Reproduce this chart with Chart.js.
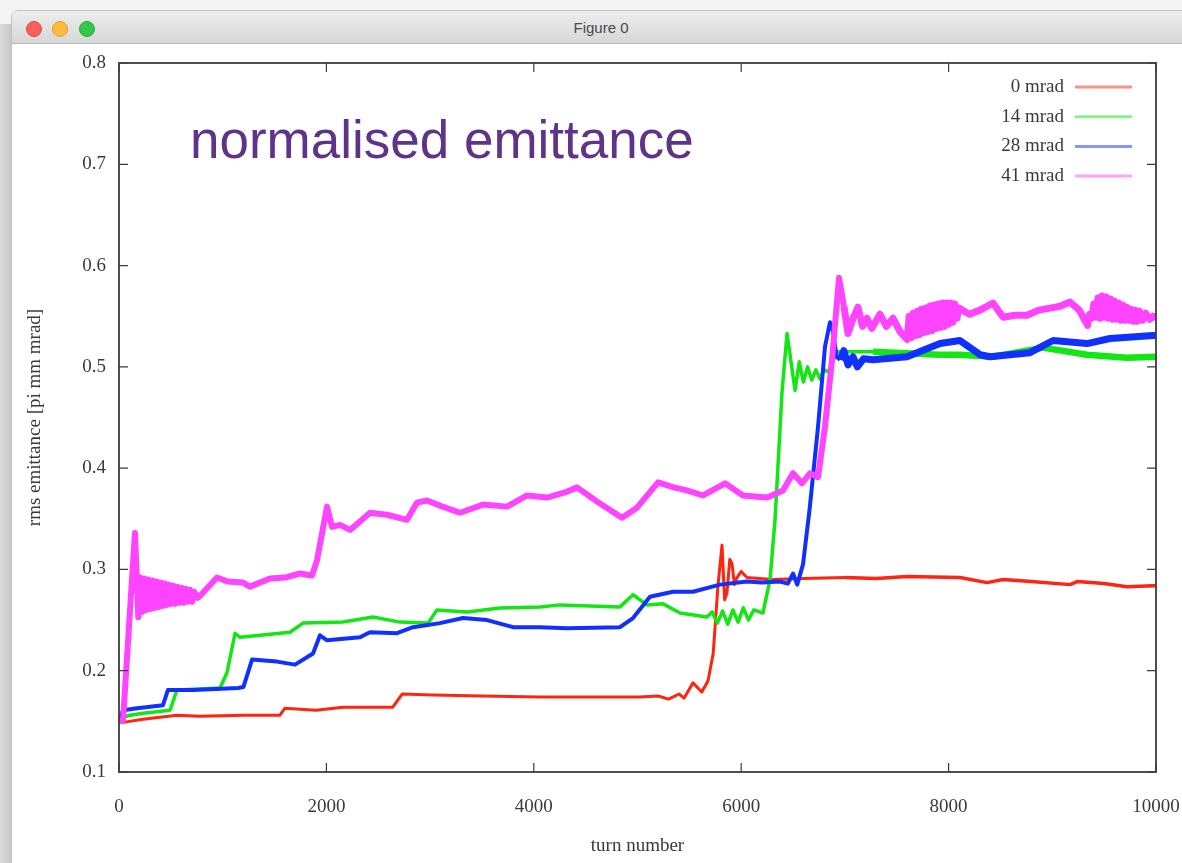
<!DOCTYPE html>
<html><head><meta charset="utf-8">
<script src="https://cdn.jsdelivr.net/npm/chart.js@4.4.0/dist/chart.umd.min.js"></script>
<style>
html,body{margin:0;padding:0;width:1182px;height:863px;overflow:hidden;background:#f4f4f4;font-family:"Liberation Sans",Arial,sans-serif;}
#strip{position:absolute;left:0;top:24px;width:12px;height:840px;background:linear-gradient(to right,#dcdcdc,#c6c6c6);}
#win{position:absolute;left:11px;top:10px;width:1200px;height:880px;background:#fff;border-top-left-radius:7px;border:1px solid #c2c2c2;overflow:hidden;}
#titlebar{position:absolute;left:0;top:0;right:0;height:32px;background:linear-gradient(#ededed,#d7d7d7);border-bottom:1px solid #b8b8b8;}
.dot{position:absolute;top:10px;width:14px;height:14px;border-radius:50%;}
#title{position:absolute;left:0;width:1178px;top:0;line-height:34px;text-align:center;font-size:15px;color:#4a4a4a;}
#wrap{position:absolute;left:0;top:44px;width:1182px;height:819px;}
#note{position:absolute;left:190px;top:113px;font-size:53px;line-height:53px;color:#5e3388;font-family:"Liberation Sans",Arial,sans-serif;white-space:nowrap;}
</style></head>
<body>
<div id="strip"></div>
<div id="win">
  <div id="titlebar">
    <div class="dot" style="left:14px;background:#fc605b;border:0.5px solid #e0443e"></div>
    <div class="dot" style="left:40px;background:#fdbc40;border:0.5px solid #dea123"></div>
    <div class="dot" style="left:67px;background:#34c84a;border:0.5px solid #27aa35"></div>
    <div id="title">Figure 0</div>
  </div>
</div>
<div id="wrap"><canvas id="c" width="1182" height="819"></canvas></div>
<div id="note">normalised emittance</div>
<script>
// ---- data (turn, rms emittance) ----
const seriesLabels = ['0 mrad', '14 mrad', '28 mrad', '41 mrad'];
const xTickValues = [0, 2000, 4000, 6000, 8000, 10000];
const yTickValues = [0.1, 0.2, 0.3, 0.4, 0.5, 0.6, 0.7, 0.8];

const red0 = [[0,0.150],[40,0.149],[230,0.152],[560,0.156],[780,0.155],[1200,0.156],[1550,0.156],[1600,0.163],[1900,0.161],[2160,0.164],[2640,0.164],[2730,0.177],[3030,0.176],[3500,0.175],[4060,0.174],[4250,0.174],[5020,0.174],[5200,0.175],[5300,0.172],[5400,0.177],[5450,0.173],[5535,0.188],[5620,0.179],[5680,0.190],[5730,0.217],[5775,0.283],[5815,0.324],[5840,0.270],[5863,0.277],[5890,0.310],[5911,0.306],[5935,0.285],[5959,0.292],[6000,0.298],[6056,0.292],[6300,0.290],[6600,0.291],[7000,0.292],[7300,0.291],[7600,0.293],[8110,0.292],[8370,0.287],[8525,0.290],[8800,0.288],[9171,0.285],[9238,0.288],[9500,0.286],[9720,0.283],[9971,0.284],[10000,0.284]];

const green14 = [[0,0.150],[10,0.153],[106,0.156],[231,0.158],[492,0.161],[559,0.181],[974,0.183],[1041,0.198],[1119,0.237],[1167,0.233],[1649,0.238],[1774,0.247],[2160,0.248],[2449,0.253],[2710,0.248],[2980,0.247],[3066,0.260],[3356,0.258],[3674,0.262],[4060,0.263],[4253,0.265],[4831,0.263],[4957,0.275],[5091,0.265],[5246,0.266],[5410,0.257],[5670,0.253],[5720,0.258],[5770,0.247],[5820,0.259],[5870,0.246],[5920,0.260],[5970,0.248],[6020,0.262],[6070,0.250],[6120,0.260],[6210,0.257],[6278,0.290],[6326,0.349],[6393,0.474],[6442,0.533],[6519,0.477],[6560,0.505],[6600,0.485],[6640,0.500],[6680,0.487],[6720,0.497],[6760,0.488],[6800,0.497],[6840,0.495],[6924,0.515],[7271,0.515],[7917,0.512],[8110,0.512],[8428,0.510],[8910,0.519],[9335,0.512],[9720,0.509],[10000,0.510]];

const blue28 = [[0,0.150],[39,0.161],[174,0.163],[424,0.166],[472,0.181],[714,0.181],[1148,0.183],[1200,0.184],[1283,0.211],[1524,0.209],[1697,0.206],[1871,0.217],[1938,0.235],[2006,0.230],[2324,0.233],[2420,0.238],[2681,0.237],[2835,0.243],[3095,0.247],[3317,0.252],[3549,0.250],[3800,0.243],[4060,0.243],[4320,0.242],[4831,0.243],[4957,0.252],[5120,0.273],[5342,0.278],[5535,0.278],[5795,0.285],[6056,0.288],[6200,0.287],[6374,0.288],[6450,0.286],[6500,0.296],[6540,0.285],[6596,0.305],[6660,0.360],[6741,0.441],[6808,0.520],[6856,0.544],[6886,0.534],[6920,0.510],[6953,0.507],[6990,0.516],[7030,0.502],[7078,0.510],[7120,0.500],[7180,0.508],[7271,0.507],[7599,0.510],[7917,0.523],[8110,0.526],[8303,0.512],[8399,0.510],[8785,0.514],[9007,0.526],[9335,0.523],[9556,0.528],[9971,0.531],[10000,0.531]];

const magenta41 = [[0,0.150],[39,0.151],[100,0.250],[154,0.336],[186,0.253],[205,0.292],[225,0.258],[245,0.291],[265,0.260],[285,0.290],[305,0.261],[325,0.289],[345,0.262],[365,0.288],[385,0.263],[405,0.287],[425,0.264],[445,0.286],[465,0.265],[485,0.285],[505,0.266],[525,0.284],[545,0.266],[565,0.283],[585,0.267],[605,0.282],[625,0.267],[645,0.281],[665,0.268],[685,0.280],[705,0.268],[725,0.278],[760,0.272],[800,0.276],[945,0.292],[1050,0.288],[1196,0.287],[1263,0.283],[1456,0.291],[1600,0.292],[1745,0.296],[1861,0.294],[1909,0.309],[2006,0.362],[2054,0.342],[2130,0.344],[2228,0.339],[2420,0.356],[2584,0.354],[2777,0.349],[2874,0.366],[2970,0.368],[3120,0.362],[3288,0.356],[3510,0.364],[3742,0.362],[3934,0.373],[4127,0.371],[4300,0.376],[4417,0.381],[4609,0.367],[4850,0.351],[4995,0.361],[5198,0.386],[5350,0.381],[5477,0.378],[5632,0.373],[5844,0.385],[6017,0.373],[6249,0.371],[6403,0.378],[6499,0.395],[6586,0.385],[6664,0.395],[6741,0.391],[6808,0.441],[6876,0.507],[6943,0.588],[6990,0.560],[7030,0.533],[7080,0.548],[7126,0.559],[7170,0.540],[7213,0.548],[7260,0.538],[7338,0.552],[7400,0.540],[7464,0.548],[7530,0.535],[7600,0.527],[7620,0.550],[7640,0.529],[7660,0.553],[7680,0.531],[7700,0.555],[7720,0.532],[7740,0.557],[7760,0.534],[7780,0.558],[7800,0.535],[7820,0.560],[7840,0.536],[7860,0.561],[7880,0.538],[7900,0.562],[7920,0.539],[7940,0.563],[7960,0.540],[7980,0.563],[8000,0.542],[8020,0.563],[8040,0.544],[8060,0.562],[8080,0.548],[8100,0.558],[8200,0.552],[8303,0.556],[8428,0.563],[8525,0.549],[8640,0.551],[8756,0.551],[8870,0.556],[8978,0.558],[9080,0.560],[9171,0.564],[9260,0.556],[9340,0.541],[9360,0.552],[9380,0.548],[9400,0.562],[9420,0.549],[9440,0.568],[9460,0.548],[9480,0.570],[9500,0.549],[9520,0.569],[9540,0.548],[9560,0.567],[9580,0.547],[9600,0.565],[9620,0.547],[9640,0.563],[9660,0.546],[9680,0.561],[9700,0.546],[9720,0.559],[9740,0.546],[9760,0.557],[9780,0.545],[9800,0.556],[9820,0.545],[9840,0.555],[9870,0.546],[9900,0.553],[9940,0.547],[9971,0.550],[10000,0.548]];

const seriesData = [red0, green14, blue28, magenta41];
const seriesColors = ['#ff2410', '#14e614', '#1030ff', '#ff44ff'];
const seriesWidths = [3, 3.5, 4, 6];
const lateWidths = [3.5, 6.5, 7, 7];

const serif = '"Liberation Serif","Times New Roman",serif';
const textGrey = '#3a3a3a';

const toPoints = arr => arr.map(p => ({x: p[0], y: p[1]}));

const framePlugin = {
  id: 'gnuframe',
  afterDraw(chart) {
    const {ctx, chartArea: {left, right, top, bottom}, scales: {x, y}} = chart;
    ctx.save();
    ctx.strokeStyle = '#3c3c3c';
    ctx.lineWidth = 1.2;
    const tl = 9;
    ctx.beginPath();
    x.ticks.forEach((t, i) => {
      const px = x.getPixelForTick(i);
      ctx.moveTo(px, bottom); ctx.lineTo(px, bottom - tl);
      ctx.moveTo(px, top); ctx.lineTo(px, top + tl);
    });
    y.ticks.forEach((t, i) => {
      const py = y.getPixelForTick(i);
      ctx.moveTo(left, py); ctx.lineTo(left + tl, py);
      ctx.moveTo(right, py); ctx.lineTo(right - tl, py);
    });
    ctx.stroke();
    ctx.lineWidth = 1.8;
    ctx.strokeRect(left, top, right - left, bottom - top);
    // key (gnuplot style: text then sample line)
    ctx.font = '19px ' + serif;
    ctx.textAlign = 'right';
    ctx.textBaseline = 'middle';
    chart.data.datasets.forEach((ds, i) => {
      const yy = top + 24 + i * 29.7;
      ctx.fillStyle = textGrey;
      ctx.fillText(ds.label, 1064, yy);
      ctx.globalAlpha = 0.5;
      ctx.strokeStyle = ds.borderColor;
      ctx.lineWidth = 3;
      ctx.beginPath(); ctx.moveTo(1075, yy); ctx.lineTo(1132, yy); ctx.stroke();
      ctx.globalAlpha = 1;
    });
    ctx.restore();
  }
};

new Chart(document.getElementById('c'), {
  type: 'line',
  data: {
    datasets: seriesData.map((s, i) => ({
      label: seriesLabels[i],
      data: toPoints(s),
      borderColor: seriesColors[i],
      backgroundColor: seriesColors[i],
      borderWidth: seriesWidths[i],
      segment: {borderWidth: c => (c.p0.parsed.x >= 6950 ? lateWidths[i] : undefined)},
      pointRadius: 0,
      tension: 0,
      fill: false,
      order: 4 - i,
      borderJoinStyle: 'round'
    }))
  },
  options: {
    responsive: false,
    animation: false,
    devicePixelRatio: 1,
    layout: {autoPadding: false, padding: {left: 0, right: 26, top: 19, bottom: 0}},
    plugins: {legend: {display: false}, tooltip: {enabled: false}},
    scales: {
      x: {
        type: 'linear', min: 0, max: 10000,
        afterBuildTicks: s => { s.ticks = xTickValues.map(v => ({value: v})); },
        afterFit: s => { s.height = 91; s.paddingLeft = 0; s.paddingRight = 0; },
        grid: {display: false},
        border: {display: false},
        ticks: {font: {family: serif, size: 19}, color: textGrey, padding: 16, maxRotation: 0, autoSkip: false,
                callback: v => String(v)},
        title: {display: true, text: 'turn number', font: {family: serif, size: 19}, color: textGrey,
                padding: {top: 0, bottom: 6}}
      },
      y: {
        type: 'linear', min: 0.1, max: 0.8,
        afterBuildTicks: s => { s.ticks = yTickValues.map(v => ({value: v})); },
        afterFit: s => { s.width = 119; s.paddingTop = 0; s.paddingBottom = 0; },
        grid: {display: false},
        border: {display: false},
        ticks: {font: {family: serif, size: 19}, color: textGrey, padding: 5,
                callback: v => Number(v).toFixed(1)},
        title: {display: true, text: 'rms emittance [pi mm mrad]', font: {family: serif, size: 19}, color: textGrey,
                padding: {top: 24, bottom: 0}}
      }
    }
  },
  plugins: [framePlugin]
});
</script>
</body></html>
